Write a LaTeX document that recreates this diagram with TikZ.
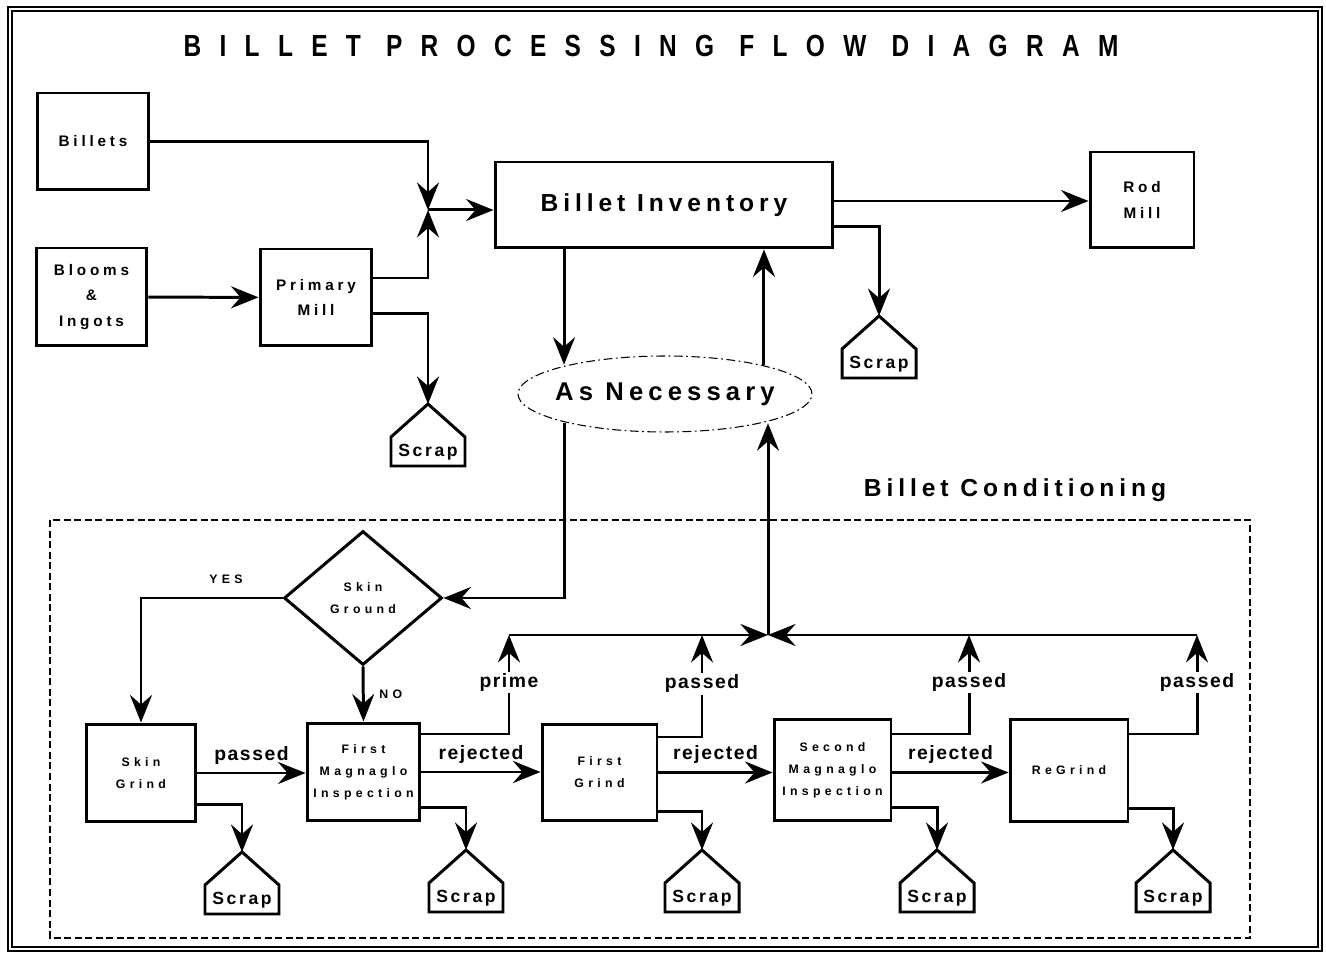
\documentclass[tikz,border=0pt]{standalone}
\usepackage{fontspec}
\setmainfont{Liberation Sans}
\newfontfamily\titlefont[LetterSpace=60,FakeStretch=0.8]{Liberation Sans}
\newfontfamily\bigfont[LetterSpace=20]{Liberation Sans}
\newfontfamily\midfont[LetterSpace=25]{Liberation Sans}
\newfontfamily\tinyfont[LetterSpace=35]{Liberation Sans}
\newfontfamily\lblfont[LetterSpace=8]{Liberation Sans}
\newfontfamily\binfont[LetterSpace=15]{Liberation Sans}
\usetikzlibrary{arrows.meta,shapes.geometric,calc}

\tikzset{
  box/.style={draw,line width=1.7pt,align=center,inner sep=0pt},
  flow/.style={line width=1.7pt,-{Stealth[length=0.55cm,width=0.44cm,inset=0.19cm]}},
  bigtext/.style={font=\bigfont\bfseries\fontsize{14}{17}\selectfont},
  midtext/.style={font=\midfont\bfseries\fontsize{8.7}{14.5}\selectfont},
  tinytext/.style={font=\tinyfont\bfseries\fontsize{7}{12.5}\selectfont},
  lbl/.style={font=\lblfont\bfseries\fontsize{11}{13}\selectfont,inner sep=1pt},
  bin/.style={line width=1.7pt,line join=miter},
  bintext/.style={font=\binfont\bfseries\fontsize{10}{12}\selectfont,inner sep=0pt}
}

% scrap bin: name, apex
\newcommand\scrapbin[2]{%
  \coordinate (#1) at (#2);
  \draw[bin] (#1) -- ++(-37,33) -- ++(0,29) -- ++(74,0) -- ++(0,-29) -- cycle;
  \node[bintext] (#1-txt) at ($(#1)+(0,48)$) {Scrap};
}

\begin{document}
\begin{tikzpicture}[x=0.02cm,y=-0.02cm]
  \useasboundingbox (0,0) rectangle (1326,955);
  \draw[line width=1pt,double distance=1.6pt] (10,9) rectangle (1320,949);
  \node[font=\titlefont\bfseries\fontsize{17.4}{20}\selectfont] (title) at (651,46) {BILLET PROCESSING FLOW DIAGRAM};

  % upper part
  \node[box,midtext,minimum width=2.24cm,minimum height=1.94cm] (billets) at (93,141.5) {Billets};
  \node[box,midtext,minimum width=2.22cm,minimum height=1.96cm] (blooms) at (91.5,297) {Blooms\\\&\\Ingots};
  \node[box,midtext,minimum width=2.24cm,minimum height=1.94cm] (primary) at (316,297.5) {Primary\\Mill};
  \node[box,bigtext,minimum width=6.76cm,minimum height=1.72cm] (inventory) at (664,205) {Billet Inventory};
  \node[box,midtext,minimum width=2.08cm,minimum height=1.92cm] (rodmill) at (1142,200) {Rod\\Mill};
  \node[ellipse,draw,line width=0.6pt,dash pattern=on 5pt off 2pt on 1pt off 2pt,
        font=\bigfont\bfseries\fontsize{14.6}{17}\selectfont,
        minimum width=5.88cm,minimum height=1.52cm,inner xsep=-0.3cm,inner ysep=0pt] (necessary) at (665,394) {As Necessary};

  \coordinate (jn) at (428,210);
  \draw[flow] (billets) -| (jn);
  \draw[flow] ([yshift=0.39cm]primary.east) -| (jn);
  \draw[flow] (blooms) -- (primary);
  \draw[flow] (jn) -- (jn -| inventory.west);
  \draw[flow] ([yshift=0.08cm]inventory.east) -- ([yshift=0.08cm]inventory.east -| rodmill.west);

  \scrapbin{scrapA}{428,404}
  \scrapbin{scrapB}{879,316}
  \draw[flow] ([yshift=-0.33cm]primary.east) -| (scrapA);
  \draw[flow] ([yshift=-0.44cm]inventory.east) -| (scrapB);

  \coordinate (invdown) at ([xshift=-2cm]inventory.south);
  \coordinate (invup) at ([xshift=2cm]inventory.south);
  \draw[flow] (invdown) -- (invdown |- necessary.163);
  \draw[flow] (invup |- necessary.17) -- (invup);

  % billet conditioning
  \draw[line width=0.6pt,dash pattern=on 4pt off 2pt] (50,520) rectangle (1250,938);
  \node[bigtext] (cond) at (1015,490) {Billet Conditioning};

  \node[diamond,draw,line width=1.7pt,tinytext,align=center,inner sep=0pt,
        minimum width=3.16cm,minimum height=2.68cm] (skin) at (363,598) {Skin\\Ground};
  \draw[flow] (invdown |- necessary.197) |- (skin.east);

  \node[box,tinytext,minimum width=2.2cm,minimum height=1.96cm] (skingrind) at (141,773) {Skin\\Grind};
  \node[box,tinytext,minimum width=2.26cm,minimum height=1.96cm] (fmi) at (363.5,772) {First\\Magnaglo\\Inspection};
  \node[box,tinytext,minimum width=2.3cm,minimum height=1.94cm] (firstgrind) at (599.5,772.5) {First\\Grind};
  \node[box,tinytext,minimum width=2.34cm,minimum height=2.04cm] (smi) at (832.5,770) {Second\\Magnaglo\\Inspection};
  \node[box,tinytext,minimum width=2.36cm,minimum height=2.06cm] (regrind) at (1069,770.5) {ReGrind};

  \draw[flow] (skin.west) -| (skingrind.north) node[tinytext,above=4pt,pos=0.2] {YES};
  \draw[flow] (skin.south) -- (fmi.north) node[tinytext,right=5pt,midway] {NO};

  \draw[flow] (skingrind.east) -- (skingrind.east -| fmi.west) node[lbl,above=3pt,midway] {passed};
  \draw[flow] (fmi.east) -- (fmi.east -| firstgrind.west) node[lbl,above=3pt,midway] {rejected};
  \draw[flow] (firstgrind.east) -- (firstgrind.east -| smi.west) node[lbl,above=3pt,midway] {rejected};
  \draw[flow] (smi.east |- firstgrind.east) -- (firstgrind.east -| regrind.west) node[lbl,above=3pt,midway] {rejected};

  % collector line
  \coordinate (p1) at (509,635);
  \coordinate (p2) at (702,635);
  \coordinate (p3) at (969,635);
  \coordinate (p4) at (1197,635);
  \coordinate (hub) at (768,635);
  \draw[flow] ([yshift=0.76cm]fmi.east) -| (p1) node[lbl,fill=white,pos=0.76] {prime};
  \draw[flow] ([yshift=0.71cm]firstgrind.east) -| (p2) node[lbl,fill=white,pos=0.76] {passed};
  \draw[flow] ([yshift=0.72cm]smi.east) -| (p3) node[lbl,fill=white,pos=0.76] {passed};
  \draw[flow] ([yshift=0.73cm]regrind.east) -| (p4) node[lbl,fill=white,pos=0.76] {passed};
  \draw[flow] (p1) -- (hub);
  \draw[flow] (p4) -- (hub);
  \draw[flow] (hub) -- (hub |- necessary.343);

  \scrapbin{scrapC}{242,852}
  \scrapbin{scrapD}{466,850}
  \scrapbin{scrapE}{702,850}
  \scrapbin{scrapF}{937,850}
  \scrapbin{scrapG}{1173,850}
  \draw[flow] ([yshift=-0.64cm]skingrind.east) -| (scrapC);
  \draw[flow] ([yshift=-0.72cm]fmi.east) -| (scrapD);
  \draw[flow] ([yshift=-0.79cm]firstgrind.east) -| (scrapE);
  \draw[flow] ([yshift=-0.76cm]smi.east) -| (scrapF);
  \draw[flow] ([yshift=-0.77cm]regrind.east) -| (scrapG);
\end{tikzpicture}
\end{document}
